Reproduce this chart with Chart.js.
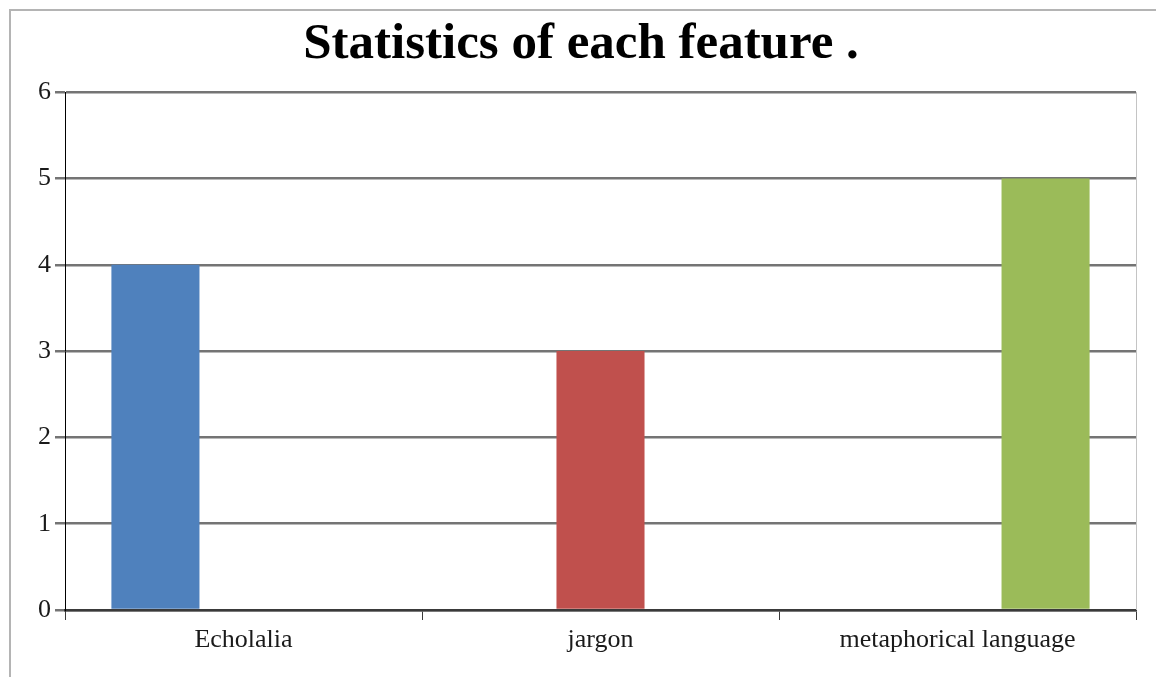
<!DOCTYPE html>
<html>
<head>
<meta charset="utf-8">
<title>Statistics of each feature</title>
<script src="https://cdn.jsdelivr.net/npm/chart.js@4/dist/chart.umd.min.js"></script>
<style>
  html, body { margin: 0; padding: 0; background: #fff; overflow: hidden; width: 1156px; height: 677px; }
  #frame {
    position: absolute; left: 9px; top: 9px; width: 2000px; height: 2000px;
    border: 2px solid #b4b4b4; box-sizing: border-box; z-index: 0;
  }
  #chart { position: absolute; left: 0; top: 0; z-index: 1; }
</style>
</head>
<body>
<div id="frame"></div>
<canvas id="chart" width="1156" height="677"></canvas>
<script>
// Categories and the count recorded for each feature
const categories = ['Echolalia', 'jargon', 'metaphorical language'];
const echolaliaCounts = [4, null, null];
const jargonCounts = [null, 3, null];
const metaphorCounts = [null, null, 5];
const yTicks = [0, 1, 2, 3, 4, 5, 6];

const serif = "'Liberation Serif', 'Times New Roman', serif";

// Light frame line on the right edge of the plot area
const plotFrame = {
  id: 'plotFrame',
  beforeDatasetsDraw(chart) {
    const { ctx, chartArea } = chart;
    ctx.save();
    ctx.strokeStyle = '#c4c4c4';
    ctx.lineWidth = 1;
    ctx.beginPath();
    ctx.moveTo(chartArea.right + 0.5, chartArea.top);
    ctx.lineTo(chartArea.right + 0.5, chartArea.bottom);
    ctx.stroke();
    ctx.restore();
  }
};

new Chart(document.getElementById('chart'), {
  type: 'bar',
  data: {
    labels: categories,
    datasets: [
      { label: 'Echolalia', data: echolaliaCounts, backgroundColor: '#4F81BD' },
      { label: 'jargon', data: jargonCounts, backgroundColor: '#C0504D' },
      { label: 'metaphorical language', data: metaphorCounts, backgroundColor: '#9BBB59' }
    ]
  },
  plugins: [plotFrame],
  options: {
    responsive: false,
    animation: false,
    devicePixelRatio: 1,
    layout: { padding: { left: 26, right: 20, top: 0, bottom: 0 } },
    datasets: {
      bar: { categoryPercentage: 0.74, barPercentage: 1.0, borderWidth: 0 }
    },
    plugins: {
      legend: { display: false },
      tooltip: { enabled: false },
      title: {
        display: true,
        text: 'Statistics of each feature .',
        color: '#000',
        font: { family: serif, size: 51, weight: 'bold' },
        padding: { top: 14, bottom: 17 }
      }
    },
    scales: {
      x: {
        afterFit(scale) { scale.height = 67; },
        grid: {
          offset: true,
          drawOnChartArea: false,
          drawTicks: true,
          tickLength: 10,
          color: '#3a3a3a',
          lineWidth: 1
        },
        border: { display: true, color: '#3a3a3a', width: 2.5 },
        ticks: {
          color: '#1a1a1a',
          font: { family: serif, size: 26 },
          padding: 5,
          maxRotation: 0
        }
      },
      y: {
        min: 0,
        max: 6,
        afterFit(scale) { scale.width = 39; },
        afterBuildTicks(scale) { scale.ticks = yTicks.map(v => ({ value: v })); },
        grid: {
          color: '#747474',
          lineWidth: 2.5,
          tickLength: 10,
          drawTicks: true
        },
        border: { display: true, color: '#000', width: 1 },
        ticks: {
          color: '#1a1a1a',
          font: { family: serif, size: 26 },
          padding: 4
        }
      }
    }
  }
});
</script>
</body>
</html>
